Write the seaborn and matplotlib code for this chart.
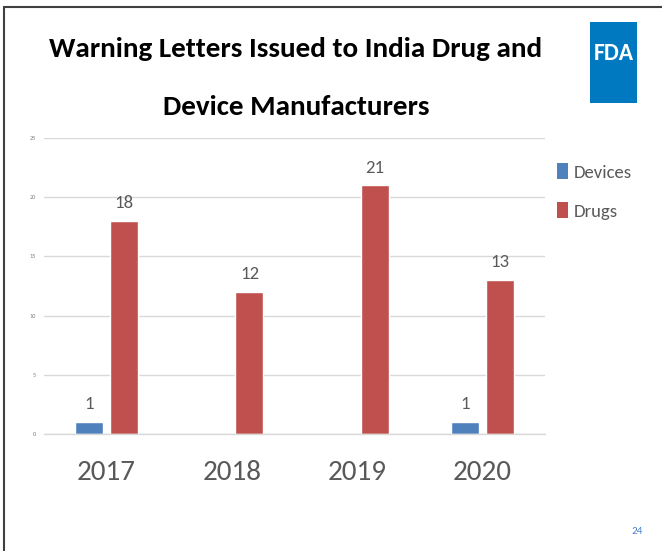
import matplotlib
matplotlib.use("Agg")
import matplotlib.pyplot as plt
from matplotlib import font_manager
from matplotlib.lines import Line2D
from matplotlib.patches import Rectangle
import seaborn as sns
import pandas as pd

years = ["2017", "2018", "2019", "2020"]
devices = [1, 0, 0, 1]
drugs = [18, 12, 21, 13]
series_names = ["Devices", "Drugs"]
series_colors = ["#4F81BD", "#C0504D"]
y_ticks = [0, 5, 10, 15, 20, 25]

# pick a narrow sans family, as close to the slide font as available
available = {f.name for f in font_manager.fontManager.ttflist}
narrow = next((n for n in ["Carlito", "Archivo Narrow"] if n in available), "DejaVu Sans")

df = pd.DataFrame({
    "Year": years * 2,
    "Series": [series_names[0]] * len(years) + [series_names[1]] * len(years),
    "Count": devices + drugs,
})

sns.set_theme(style="white")
plt.rcParams["font.family"] = [narrow, "DejaVu Sans"]
plt.rcParams["font.stretch"] = "condensed"

W, H = 662, 551
fig = plt.figure(figsize=(W / 100, H / 100), dpi=100)
ax = fig.add_axes([44 / W, 1 - 434 / H, (545 - 44) / W, (434 - 138) / H])

sns.barplot(data=df, x="Year", y="Count", hue="Series", palette=series_colors,
            width=0.56, gap=0.2, ax=ax, legend=False, saturation=1)

ax.set_ylim(0, 25)
ax.set_yticks(y_ticks)
ax.set_xlim(-0.5, len(years) - 0.5)
ax.yaxis.grid(True, color="#D9D9D9", linewidth=1)
ax.set_axisbelow(True)
for s in ["top", "right", "left"]:
    ax.spines[s].set_visible(False)
ax.spines["bottom"].set_color("#D9D9D9")
ax.spines["bottom"].set_linewidth(1)
ax.set_xlabel("")
ax.set_ylabel("")
ax.tick_params(axis="y", length=0, labelsize=4.5, labelcolor="#808080", pad=6)
ax.tick_params(axis="x", length=0, labelsize=21, labelcolor="#595959", pad=19)

for cont in ax.containers:
    labels = [f"{int(b.get_height())}" if b.get_height() > 0 else "" for b in cont]
    ax.bar_label(cont, labels=labels, padding=7, fontsize=13.5, color="#595959")

handles = [Rectangle((0, 0), 1, 1, facecolor=c, edgecolor="none") for c in series_colors]
fig.legend(handles, series_names, loc="upper left", bbox_to_anchor=(549 / W, 1 - 156 / H),
           frameon=False, fontsize=13.5, handlelength=0.6, handleheight=0.9,
           handletextpad=0.3, labelspacing=1.15, labelcolor="#595959", borderaxespad=0)

fig.text(296 / W, 1 - 57 / H, "Warning Letters Issued to India Drug and",
         ha="center", va="baseline", fontsize=21, fontweight="bold", color="black")
fig.text(296 / W, 1 - 115 / H, "Device Manufacturers",
         ha="center", va="baseline", fontsize=21, fontweight="bold", color="black")

fig.add_artist(Rectangle((590 / W, 1 - 103 / H), 47 / W, 81 / H,
                         transform=fig.transFigure, facecolor="#0079C1", edgecolor="none"))
fig.text(613.5 / W, 1 - 60 / H, "FDA", ha="center", va="baseline", fontsize=17,
         fontweight="bold", color="white")

fig.add_artist(Line2D([4 / W, 4 / W], [0, 1 - 7 / H], transform=fig.transFigure,
                      color="#404040", linewidth=1.5))
fig.add_artist(Line2D([4 / W, 1], [1 - 7 / H, 1 - 7 / H], transform=fig.transFigure,
                      color="#404040", linewidth=1.5))

fig.text(637 / W, 1 - 531 / H, "24", ha="center", va="center", fontsize=8,
         color="#4A7FD0")

fig.savefig("out.png", dpi=100)
